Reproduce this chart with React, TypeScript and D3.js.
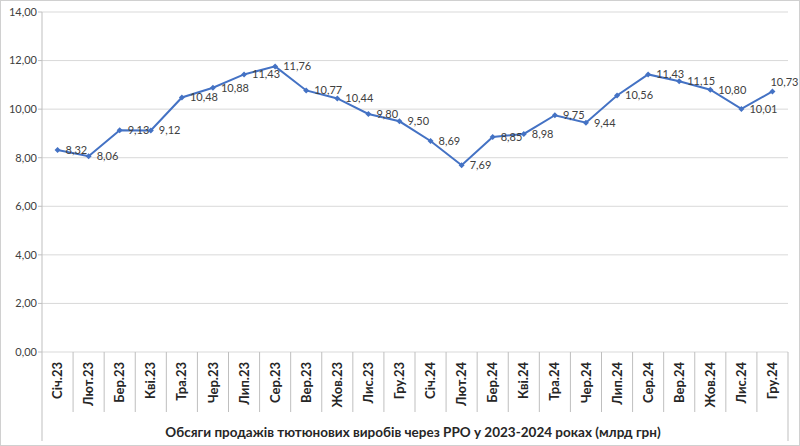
import React from "react";
import * as d3 from "d3";

const categories = ["Січ.23","Лют.23","Бер.23","Кві.23","Тра.23","Чер.23","Лип.23","Сер.23","Вер.23","Жов.23","Лис.23","Гру.23","Січ.24","Лют.24","Бер.24","Кві.24","Тра.24","Чер.24","Лип.24","Сер.24","Вер.24","Жов.24","Лис.24","Гру.24"];
const values = [8.32,8.06,9.13,9.12,10.48,10.88,11.43,11.76,10.77,10.44,9.80,9.50,8.69,7.69,8.85,8.98,9.75,9.44,10.56,11.43,11.15,10.80,10.01,10.73];
const yTicks = [0,2,4,6,8,10,12,14];
const title = "Обсяги продажів тютюнових виробів через РРО у 2023-2024 роках (млрд грн)";

const W = 800, H = 446;
const left = 42, right = 788, top = 12, bottom = 352;

export default function App() {
  const x = d3.scaleBand<string>().domain(categories).range([left, right]);
  const y = d3.scaleLinear().domain([0, 14]).range([bottom, top]);
  const fmt = (v: number) => v.toFixed(2).replace(".", ",");
  const line = d3.line<number>().x((_, i) => x(categories[i])! + x.bandwidth() / 2).y(d => y(d));
  const font = "Lato, 'Noto Sans', sans-serif";
  return (
    <svg width={W} height={H} style={{ position: "absolute", left: 0, top: 0, background: "#fff" }} fontFamily={font}>
      <rect x={0.5} y={0.5} width={W - 1} height={H - 1} fill="#fff" stroke="#d0d0d0" />
      {yTicks.map(t => (
        <g key={t}>
          <line x1={left} x2={right} y1={y(t)} y2={y(t)} stroke="#d9d9d9" strokeWidth={1} />
          <line x1={left - 4} x2={left} y1={y(t)} y2={y(t)} stroke="#bfbfbf" />
          <text x={left - 5} y={y(t)} dy="0.35em" textAnchor="end" fontSize={11} fill="#404040">{fmt(t)}</text>
        </g>
      ))}
      <line x1={left} x2={left} y1={top} y2={441} stroke="#bfbfbf" />
      <line x1={right} x2={right} y1={bottom} y2={441} stroke="#bfbfbf" />
      {categories.map((c, i) => i > 0 ? (
        <line key={c} x1={x(c)!} x2={x(c)!} y1={bottom} y2={412} stroke="#bfbfbf" />
      ) : null)}
      {categories.map(c => (
        <text key={c} transform={`translate(${x(c)! + x.bandwidth() / 2},362) rotate(-90)`} textAnchor="end" dy="0.35em" fontSize={13} fontWeight="bold" fill="#262626">{c}</text>
      ))}
      <path d={line(values)!} fill="none" stroke="#4472C4" strokeWidth={2} />
      {values.map((v, i) => {
        const cx = x(categories[i])! + x.bandwidth() / 2, cy = y(v);
        const last = i === values.length - 1;
        return (
          <g key={i}>
            <path d={`M${cx},${cy - 3}L${cx + 3},${cy}L${cx},${cy + 3}L${cx - 3},${cy}Z`} fill="#4472C4" />
            <text x={last ? cx - 2 : cx + 8} y={last ? cy - 9 : cy} dy="0.35em" fontSize={11} fill="#404040">{fmt(v)}</text>
          </g>
        );
      })}
      <text x={413} y={432} dy="0.35em" textAnchor="middle" fontSize={13.5} fontWeight="bold" fill="#262626">{title}</text>
    </svg>
  );
}
